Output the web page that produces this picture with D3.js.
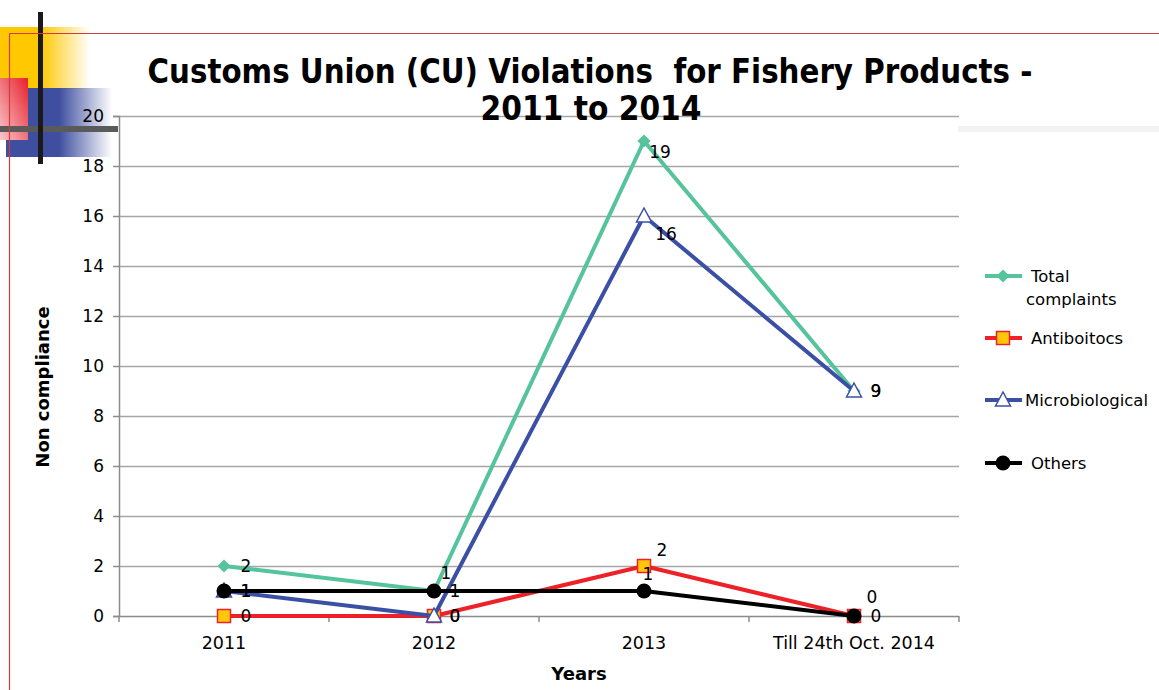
<!DOCTYPE html>
<html>
<head>
<meta charset="utf-8">
<script src="https://cdn.jsdelivr.net/npm/d3@7"></script>
<style>
  html, body { margin: 0; padding: 0; background: #fff; }
  svg { display: block; }
  text { font-family: "DejaVu Sans", Verdana, sans-serif; fill: #000; }
</style>
</head>
<body>
<svg id="chart" width="1159" height="690"></svg>
<script>
// Categories along the x axis
const categories = ["2011", "2012", "2013", "Till 24th Oct. 2014"];

// Series values (number of non-compliances)
const seriesNames = ["Total complaints", "Antiboitocs", "Microbiological", "Others"];
const totalComplaints = [2, 1, 19, 9];
const antibiotics = [0, 0, 2, 0];
const microbiological = [1, 0, 16, 9];
const others = [1, 1, 1, 0];

// Y axis tick values
const yTicks = [0, 2, 4, 6, 8, 10, 12, 14, 16, 18, 20];

const svg = d3.select("#chart");
const W = 1159, H = 690;

// ---- slide decoration (top-left corner) ----
const defs = svg.append("defs");
function hGrad(id, color, solidTo) {
  const g = defs.append("linearGradient").attr("id", id)
    .attr("x1", "0").attr("x2", "1").attr("y1", "0").attr("y2", "0");
  g.append("stop").attr("offset", 0).attr("stop-color", color).attr("stop-opacity", 1);
  g.append("stop").attr("offset", solidTo).attr("stop-color", color).attr("stop-opacity", 1);
  g.append("stop").attr("offset", 1).attr("stop-color", color).attr("stop-opacity", 0);
}
hGrad("yellowFade", "#FFC800", 0.45);
hGrad("blueFade", "#3F4FA0", 0.5);
const rg = defs.append("linearGradient").attr("id", "redFade")
  .attr("x1", "1").attr("y1", "0").attr("x2", "0").attr("y2", "1");
rg.append("stop").attr("offset", 0).attr("stop-color", "#E8202A");
rg.append("stop").attr("offset", 1).attr("stop-color", "#F8C8CC");

const deco = svg.append("g");
deco.append("rect").attr("x", 0).attr("y", 27).attr("width", 90).attr("height", 62).attr("fill", "url(#yellowFade)");
deco.append("rect").attr("x", 6).attr("y", 88).attr("width", 106).attr("height", 69).attr("fill", "url(#blueFade)");
deco.append("rect").attr("x", 0).attr("y", 78).attr("width", 28).attr("height", 62).attr("fill", "url(#redFade)");
deco.append("rect").attr("x", 0).attr("y", 126).attr("width", 118).attr("height", 6).attr("fill", "#5a5a5a");
deco.append("rect").attr("x", 958).attr("y", 126).attr("width", 201).attr("height", 6).attr("fill", "#f2f2f2");
deco.append("rect").attr("x", 38).attr("y", 12).attr("width", 5).attr("height", 152).attr("fill", "#1a1a1a");
deco.append("line").attr("x1", 9.5).attr("x2", W).attr("y1", 33.5).attr("y2", 33.5)
  .attr("stroke", "#D23A42").attr("stroke-width", 1.2);
deco.append("line").attr("x1", 9.5).attr("x2", 9.5).attr("y1", 33.5).attr("y2", H)
  .attr("stroke", "#D23A42").attr("stroke-width", 1.2);

// ---- scales ----
const plot = { left: 119, right: 959, top: 116, bottom: 616 };
const x = d3.scaleBand().domain(categories).range([plot.left, plot.right]).padding(0);
const y = d3.scaleLinear().domain([0, 20]).range([plot.bottom, plot.top]);
const cx = c => x(c) + x.bandwidth() / 2;

// ---- gridlines ----
svg.append("g").selectAll("line").data(yTicks.filter(d => d > 0)).join("line")
  .attr("x1", plot.left).attr("x2", plot.right)
  .attr("y1", d => Math.round(y(d)) + 0.5).attr("y2", d => Math.round(y(d)) + 0.5)
  .attr("stroke", "#a6a6a6").attr("stroke-width", 1.5);

// ---- axes ----
const yAxis = svg.append("g").attr("transform", `translate(${plot.left},0)`)
  .call(d3.axisLeft(y).tickValues(yTicks).tickSize(6).tickPadding(9));
yAxis.select(".domain").attr("stroke", "#8c8c8c").attr("stroke-width", 1.5);
yAxis.selectAll(".tick line").attr("stroke", "#8c8c8c").attr("stroke-width", 1.5);
yAxis.selectAll(".tick text").attr("font-size", 17).attr("font-family", "DejaVu Sans").attr("fill", "#000");

const xAxisG = svg.append("g").attr("transform", `translate(0,${plot.bottom})`);
xAxisG.append("line").attr("x1", plot.left).attr("x2", plot.right).attr("y1", 0.5).attr("y2", 0.5)
  .attr("stroke", "#8c8c8c").attr("stroke-width", 1.5);
const boundaries = categories.map(c => x(c)).concat([plot.right]);
xAxisG.selectAll("line.tk").data(boundaries).join("line").attr("class", "tk")
  .attr("x1", d => d).attr("x2", d => d).attr("y1", 0).attr("y2", 6)
  .attr("stroke", "#8c8c8c").attr("stroke-width", 1.5);
xAxisG.selectAll("text").data(categories).join("text")
  .attr("x", d => cx(d)).attr("y", 27)
  .attr("text-anchor", "middle").attr("dominant-baseline", "central")
  .attr("font-size", 17.5).text(d => d);

// ---- axis titles ----
svg.append("text").attr("x", 579).attr("y", 673)
  .attr("text-anchor", "middle").attr("dominant-baseline", "central")
  .attr("font-size", 18).attr("font-weight", "bold").text("Years");
svg.append("text").attr("transform", "translate(42,387) rotate(-90)")
  .attr("text-anchor", "middle").attr("dominant-baseline", "central")
  .attr("font-size", 18).attr("font-weight", "bold").text("Non compliance");

// ---- title (two centred lines, squeezed horizontally to a set width) ----
function titleLine(str, cxPos, baseline, width) {
  const t = svg.append("text").attr("font-weight", "bold").attr("font-size", 34)
    .attr("text-anchor", "middle").attr("xml:space", "preserve").text(str);
  const natural = t.node().getComputedTextLength();
  t.attr("transform", `translate(${cxPos},${baseline}) scale(${width / natural},1)`);
}
titleLine("Customs Union (CU) Violations  for Fishery Products -", 590, 83, 885);
titleLine("2011 to 2014", 591, 120, 221);

// ---- series ----
const series = [
  { name: seriesNames[0], values: totalComplaints, color: "#55C39B", marker: "diamond",
    off: [[22, 0], [12, -18], [16, 11], [22, 0]] },
  { name: seriesNames[1], values: antibiotics, color: "#EE2128", marker: "square",
    off: [[22, 0], [21, 0], [18, -16], [18, -19]] },
  { name: seriesNames[2], values: microbiological, color: "#3B50A5", marker: "triangle",
    off: [[22, 0], [21, 0], [22, 18], [22, 0]] },
  { name: seriesNames[3], values: others, color: "#000000", marker: "circle",
    off: [[22, 0], [21, 0], [4, -17], [22, 0]] }
];

function drawMarker(g, type, color) {
  if (type === "diamond") {
    g.append("path").attr("d", d3.symbol(d3.symbolDiamond2, 110)()).attr("fill", color);
  } else if (type === "square") {
    g.append("rect").attr("x", -6.5).attr("y", -6.5).attr("width", 13).attr("height", 13)
      .attr("fill", "#FFC60A").attr("stroke", color).attr("stroke-width", 1.5);
  } else if (type === "triangle") {
    g.append("path").attr("d", "M0,-8 L7.5,6 L-7.5,6 Z")
      .attr("fill", "#fff").attr("stroke", color).attr("stroke-width", 1.5);
  } else {
    g.append("circle").attr("r", 7.5).attr("fill", color);
  }
}

const line = d3.line().x((d, i) => cx(categories[i])).y(d => y(d));
const seriesG = svg.append("g");
series.forEach(s => {
  const g = seriesG.append("g");
  g.append("path").datum(s.values).attr("d", line)
    .attr("fill", "none").attr("stroke", s.color).attr("stroke-width", 4)
    .attr("stroke-linejoin", "round");
  s.values.forEach((v, i) => {
    const m = g.append("g").attr("transform", `translate(${cx(categories[i])},${y(v)})`);
    drawMarker(m, s.marker, s.color);
  });
});

// ---- data labels ----
const labelG = svg.append("g");
series.forEach(s => {
  s.values.forEach((v, i) => {
    labelG.append("text")
      .attr("x", cx(categories[i]) + s.off[i][0])
      .attr("y", y(v) + s.off[i][1])
      .attr("text-anchor", "middle").attr("dominant-baseline", "central")
      .attr("font-size", 17).text(v);
  });
});

// ---- legend ----
const legendRows = [
  { s: series[0], y: 276, lines: ["Total", "complaints"], tx: 1031 },
  { s: series[1], y: 338, lines: ["Antiboitocs"], tx: 1031 },
  { s: series[2], y: 400, lines: ["Microbiological"], tx: 1025 },
  { s: series[3], y: 463, lines: ["Others"], tx: 1031 }
];
const legend = svg.append("g");
legendRows.forEach(r => {
  const g = legend.append("g");
  g.append("line").attr("x1", 985).attr("x2", 1022).attr("y1", r.y).attr("y2", r.y)
    .attr("stroke", r.s.color).attr("stroke-width", 4);
  const m = g.append("g").attr("transform", `translate(1003,${r.y})`);
  drawMarker(m, r.s.marker, r.s.color);
  r.lines.forEach((t, k) => {
    g.append("text").attr("x", k === 0 ? r.tx : 1026).attr("y", r.y + k * 23)
      .attr("dominant-baseline", "central").attr("font-size", 16.5).text(t);
  });
});
</script>
</body>
</html>
